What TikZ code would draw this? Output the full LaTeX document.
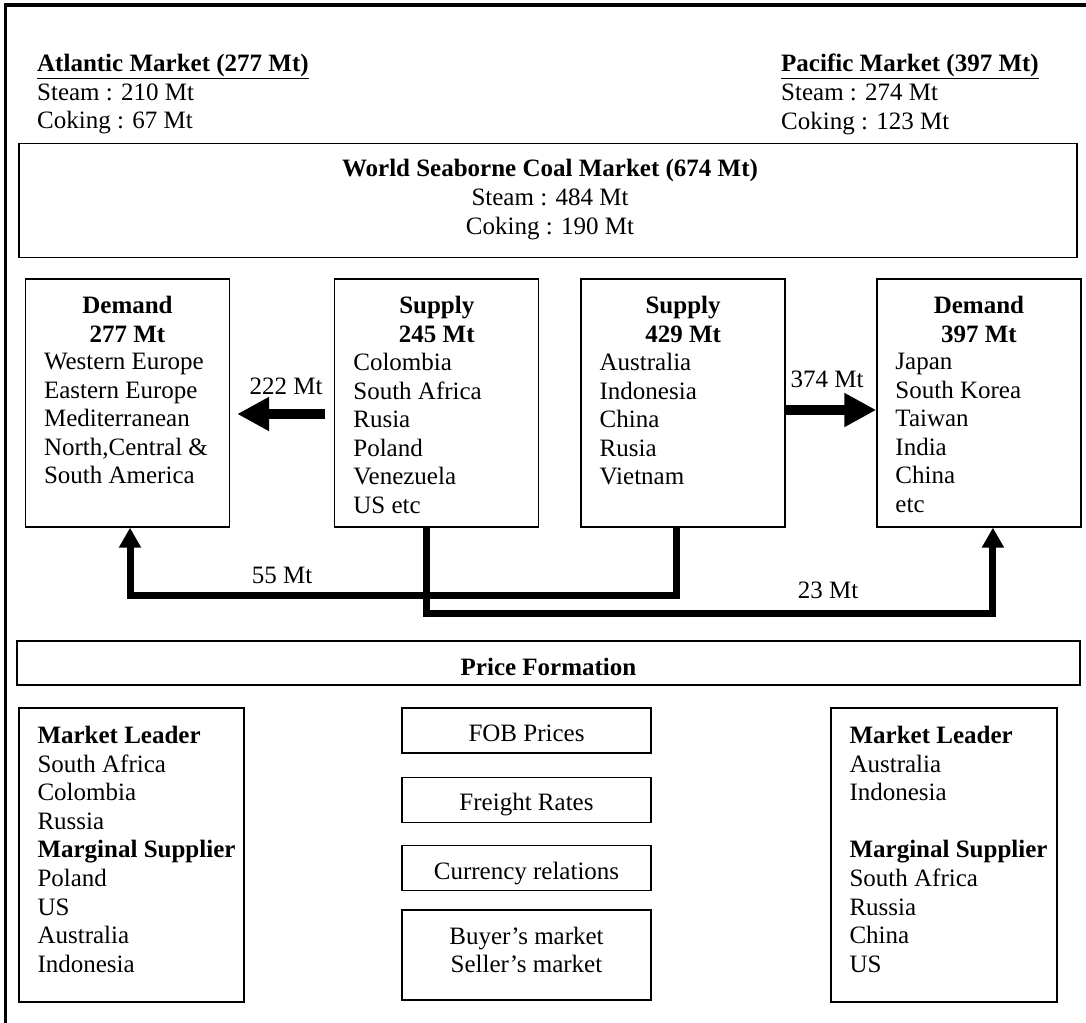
\documentclass[tikz,border=0pt]{standalone}
\usepackage{fontspec}
\setmainfont{Liberation Serif}
\usetikzlibrary{arrows.meta,positioning}

\begin{document}
\begin{tikzpicture}[
  x=1bp, y=-1bp,
  font=\fontsize{25bp}{28.6bp}\selectfont,
  box/.style={
    rectangle,
    draw,
    line width=1.3bp,
    inner sep=0pt
  },
  region/.style={box, minimum width=204bp, minimum height=248bp},
  fact/.style={box, minimum width=249bp, minimum height=45bp, text height=22bp, text depth=0bp},
  head/.style={align=center, inner sep=0pt, font=\fontsize{25bp}{28.6bp}\selectfont\bfseries},
  list/.style={align=left, inner sep=0pt},
  lbl/.style={inner sep=0pt, anchor=base},
  bigarr/.style={line width=10bp, -{Triangle[length=32bp, width=32bp]}},
  flow/.style={line width=7bp, -{Triangle[length=20bp, width=21bp]}}
]
\useasboundingbox (0,0) rectangle (1086,1023);
\draw[line width=3.5bp] (5.5,1023) -- (5.5,5) -- (1086,5);

\node[list, anchor=north west] (atlantic) at (37,54) {\underline{\textbf{Atlantic Market (277 Mt)}}\\Steam : 210 Mt\\Coking : 67 Mt};
\node[list, anchor=north west] (pacific) at (781,54) {\underline{\textbf{Pacific Market (397 Mt)}}\\Steam : 274 Mt\\Coking : 123 Mt};

\node[box, minimum width=1058bp, minimum height=114bp] (world) at (548,200.5) {};
\node[align=center, inner sep=0pt, anchor=north] (worldtxt) at ([xshift=2bp, yshift=-16.5bp]world.north) {\textbf{World Seaborne Coal Market (674 Mt)}\\Steam : 484 Mt\\Coking : 190 Mt};

\node[region] (dem1) at (127.5,403) {};
\node[region, right=104bp of dem1] (sup1) {};
\node[region, right=41bp of sup1] (sup2) {};
\node[region, right=90.5bp of sup2] (dem2) {};

\node[head, anchor=north] (dem1h) at ([yshift=-17.5bp]dem1.north) {Demand\\277 Mt};
\node[head, anchor=north] (sup1h) at ([yshift=-17.5bp]sup1.north) {Supply\\245 Mt};
\node[head, anchor=north] (sup2h) at ([yshift=-17.5bp]sup2.north) {Supply\\429 Mt};
\node[head, anchor=north] (dem2h) at ([yshift=-17.5bp]dem2.north) {Demand\\397 Mt};

\node[list, anchor=north west] (dem1l) at ([xshift=19bp, yshift=-74.5bp]dem1.north west) {Western Europe\\Eastern Europe\\Mediterranean\\North,Central \&\\South America};
\node[list, anchor=north west] (sup1l) at ([xshift=19bp, yshift=-74.5bp]sup1.north west) {Colombia\\South Africa\\Rusia\\Poland\\Venezuela\\US etc};
\node[list, anchor=north west] (sup2l) at ([xshift=19bp, yshift=-74.5bp]sup2.north west) {Australia\\Indonesia\\China\\Rusia\\Vietnam};
\node[list, anchor=north west] (dem2l) at ([xshift=19bp, yshift=-74.5bp]dem2.north west) {Japan\\South Korea\\Taiwan\\India\\China\\etc};

\draw[bigarr, shorten <=9bp, shorten >=7bp] ([yshift=-11bp]sup1.west) -- ([yshift=-11bp]dem1.east);
\draw[bigarr] ([yshift=-7bp]sup2.east) -- ([yshift=-7bp]dem2.west);
\node[lbl] (q222) at (286,394) {222 Mt};
\node[lbl] (q374) at (827,387) {374 Mt};

\coordinate (via1) at (400,595);
\coordinate (via2) at (700,613);
\draw[flow] ([xshift=-6.5bp]sup2.south) |- (via1) -| ([xshift=2.5bp]dem1.south);
\draw[flow] ([xshift=-10.5bp]sup1.south) |- (via2) -| ([xshift=14bp]dem2.south);
\node[lbl] (q55) at (282,583) {55 Mt};
\node[lbl] (q23) at (828,598) {23 Mt};

\node[box, minimum width=1063bp, minimum height=44bp, text height=24bp, text depth=0bp] (price) at (548.5,663) {\textbf{Price Formation}};

\node[box, minimum width=225bp, minimum height=294bp] (lead1) at (131.5,855) {};
\node[list, anchor=north west] (lead1l) at ([xshift=19bp, yshift=-18.5bp]lead1.north west) {\textbf{Market Leader}\\South Africa\\Colombia\\Russia\\\textbf{Marginal Supplier}\\Poland\\US\\Australia\\Indonesia};

\node[box, minimum width=226bp, minimum height=294bp] (lead2) at (944,855) {};
\node[list, anchor=north west] (lead2l) at ([xshift=19bp, yshift=-18.5bp]lead2.north west) {\textbf{Market Leader}\\Australia\\Indonesia\\[28.6bp]\textbf{Marginal Supplier}\\South Africa\\Russia\\China\\US};

\node[fact] (fob) at (526.5,730.5) {FOB Prices};
\node[fact, below=23bp of fob] (freight) {Freight Rates};
\node[fact, below=22bp of freight] (currency) {Currency relations};
\node[box, minimum width=249bp, minimum height=90bp, below=18bp of currency] (market) {};
\node[align=center, inner sep=0pt, anchor=north] (markettxt) at ([yshift=-17.5bp]market.north) {Buyer’s market\\Seller’s market};
\end{tikzpicture}
\end{document}
